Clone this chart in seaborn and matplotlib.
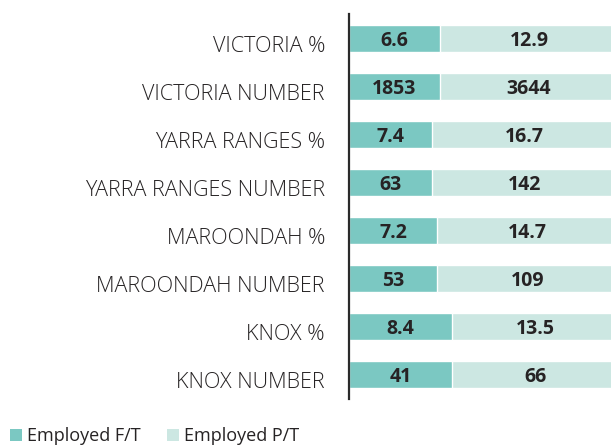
import matplotlib
matplotlib.use("Agg")
import matplotlib.pyplot as plt
from matplotlib.patches import Patch
from matplotlib.transforms import ScaledTranslation
import pandas as pd
import seaborn as sns

# Employment by area: full-time vs part-time, shown as shares of each row
categories = [
    "VICTORIA %",
    "VICTORIA NUMBER",
    "YARRA RANGES %",
    "YARRA RANGES NUMBER",
    "MAROONDAH %",
    "MAROONDAH NUMBER",
    "KNOX %",
    "KNOX NUMBER",
]
employed_ft = [6.6, 1853, 7.4, 63, 7.2, 53, 8.4, 41]
employed_pt = [12.9, 3644, 16.7, 142, 14.7, 109, 13.5, 66]
series_names = ["Employed F/T", "Employed P/T"]

FT_COLOR = "#7bc8c2"
PT_COLOR = "#cce7e2"
TEXT_COLOR = "#262324"

df = pd.DataFrame({"category": categories, "ft": employed_ft, "pt": employed_pt})
df["total"] = df["ft"] + df["pt"]
df["ft_share"] = df["ft"] / df["total"]
df["full"] = df["total"] / df["total"]

sns.set_theme(style="white")
plt.rcParams["font.family"] = ["Open Sans", "DejaVu Sans"]

fig = plt.figure(figsize=(6.11, 4.46), dpi=100)
W, H = 611, 446
ax = fig.add_axes([349 / W, (H - 398.5) / H, (618 - 349) / W, 384 / H])

# light full-width bar (part-time share), full-time share drawn over it
sns.barplot(data=df, x="full", y="category", color=PT_COLOR, saturation=1,
            width=0.56, ax=ax, orient="h")
sns.barplot(data=df, x="ft_share", y="category", color=FT_COLOR, saturation=1,
            width=0.56, ax=ax, orient="h")

ax.set_xlim(0, 1)
ax.set_ylim(len(categories) - 0.5, -0.5)

def fmt(v):
    return f"{v:g}"

for i, row in df.iterrows():
    ax.text(row["ft_share"] / 2, i, fmt(row["ft"]), ha="center", va="center_baseline",
            fontsize=14, fontweight="bold", color=TEXT_COLOR)
    ax.text((row["ft_share"] + 1) / 2, i, fmt(row["pt"]), ha="center", va="center_baseline",
            fontsize=14, fontweight="bold", color=TEXT_COLOR)

ax.set_xlabel("")
ax.set_ylabel("")
ax.set_xticks([])
ax.tick_params(axis="y", length=0, pad=17.3, labelsize=15.5, colors=TEXT_COLOR)
shift = ScaledTranslation(0, -0.06, fig.dpi_scale_trans)
for lab in ax.get_yticklabels():
    lab.set_transform(lab.get_transform() + shift)
    lab.set_fontweight("light")

for side in ["top", "right", "bottom"]:
    ax.spines[side].set_visible(False)
ax.spines["left"].set_color("#2a2a2a")
ax.spines["left"].set_linewidth(1.6)

handles = [Patch(facecolor=FT_COLOR, edgecolor="none"),
           Patch(facecolor=PT_COLOR, edgecolor="none")]
fig.legend(handles, series_names, loc="lower left", bbox_to_anchor=(10 / W, 0.002),
           ncol=2, frameon=False, fontsize=13, handlelength=0.66, handleheight=0.66,
           handletextpad=0.3, columnspacing=1.45, borderpad=0, borderaxespad=0,
           labelcolor=TEXT_COLOR)

fig.savefig("out.png", dpi=100)
